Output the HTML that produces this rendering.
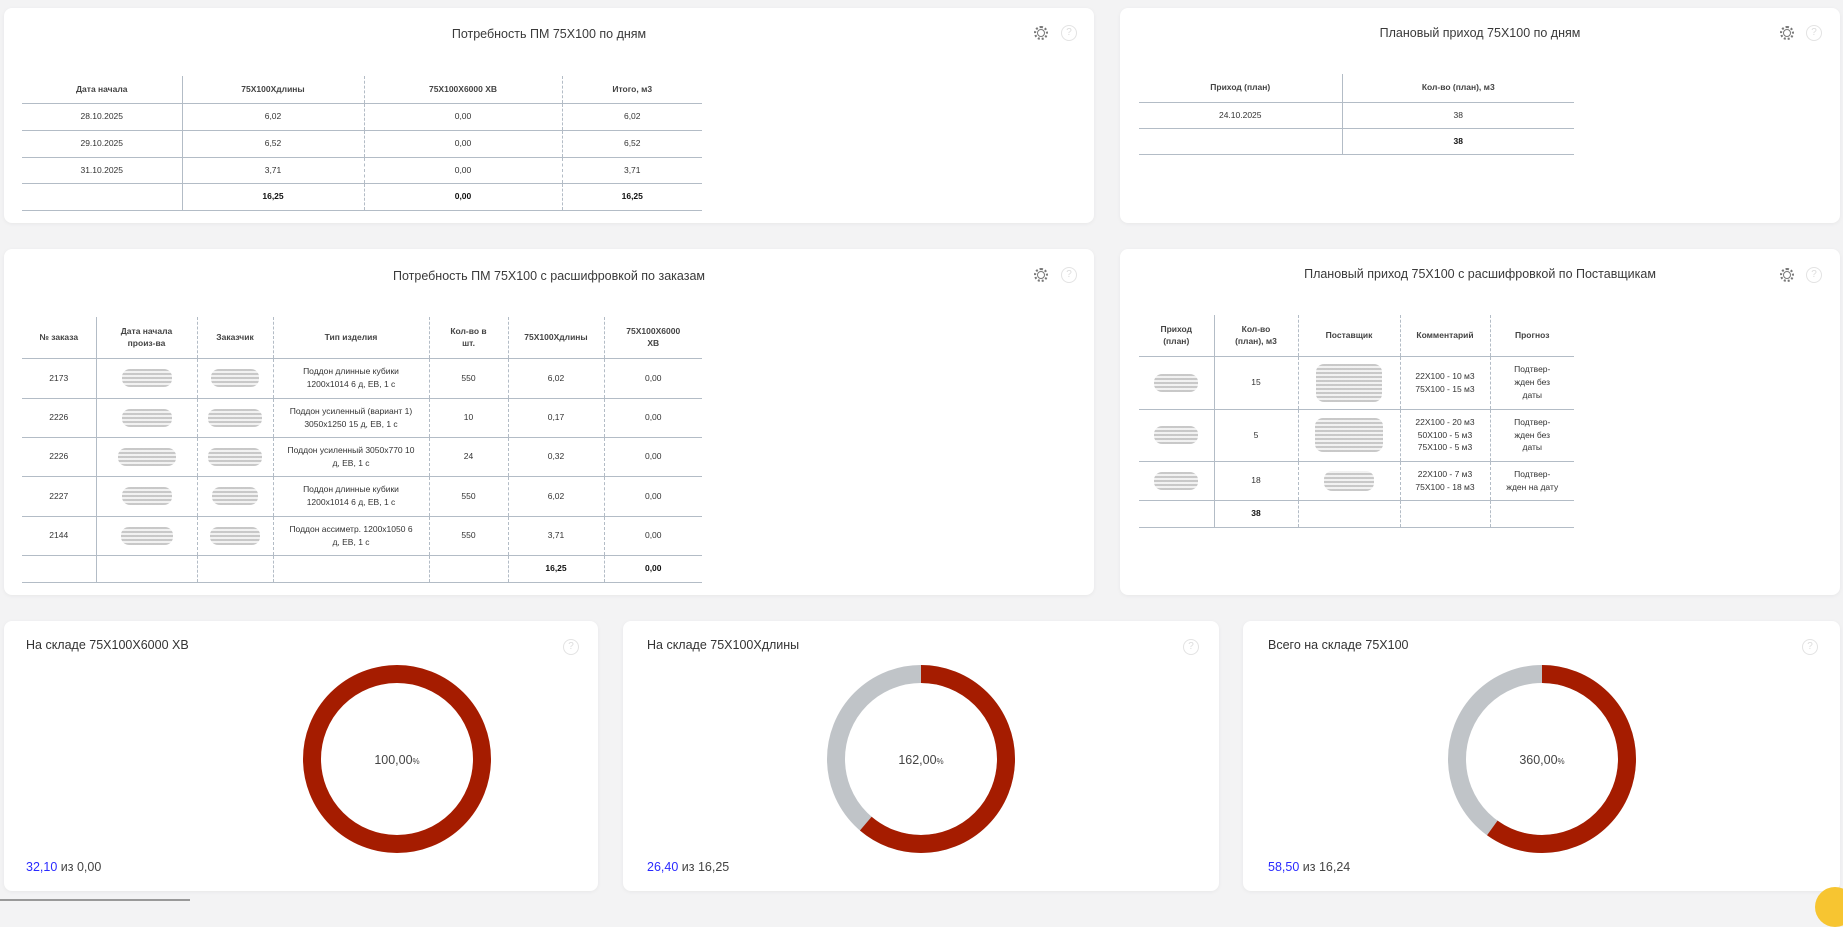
<!DOCTYPE html>
<html><head><meta charset="utf-8"><style>
*{box-sizing:border-box;margin:0;padding:0}
body{width:1843px;height:901px;background:#f3f3f4;font-family:"Liberation Sans",sans-serif;color:#333;position:relative;overflow:hidden}
.card{position:absolute;background:#fff;border-radius:8px;box-shadow:0 1px 4px rgba(0,0,0,.05)}
.title{position:absolute;font-size:12.5px;color:#3a3a3a;white-space:nowrap}
table{position:absolute;border-collapse:collapse;table-layout:fixed;font-size:8.5px;color:#333}
td{text-align:center;vertical-align:middle;border-bottom:1.5px solid #b3bcc6;border-left:1px dashed #b3bcc6;padding:0 8px;line-height:1.5}
td:first-child{border-left:none}
td:nth-child(2){border-left:1px solid #b3bcc6}
tr.h td{font-weight:bold;color:#444;font-size:8.5px}
tr.t td{font-weight:bold;color:#111}
.gear{position:absolute;width:14px;height:14px;border:2px dotted #777;border-radius:50%}
.gear:after{content:"";position:absolute;left:1px;top:1px;width:8px;height:8px;border:1.5px solid #777;border-radius:50%;box-sizing:border-box}
.q{position:absolute;width:16px;height:16px;border:1.2px solid #e3e3e3;border-radius:50%;color:#ddd;font-size:10px;text-align:center;line-height:14px}
.blur{display:inline-block;height:18px;border-radius:8px;background:repeating-linear-gradient(0deg,#bbb 0 2px,#eee 2px 4px);vertical-align:middle;opacity:.8}
.sub{position:absolute;font-size:12.5px;color:#333}
.pct{position:absolute;font-size:12.5px;color:#444;transform:translate(-50%,-50%)}
.foot{position:absolute;font-size:12.5px;color:#444}
.foot b{font-weight:normal;color:#2a2aff}
</style></head><body>

<div class="card" style="left:4px;top:8px;width:1090px;height:215px"></div>
<div class="card" style="left:1120px;top:8px;width:720px;height:215px"></div>
<div class="card" style="left:4px;top:249px;width:1090px;height:346px"></div>
<div class="card" style="left:1120px;top:249px;width:720px;height:346px"></div>
<div class="card" style="left:4px;top:621px;width:594px;height:270px"></div>
<div class="card" style="left:623px;top:621px;width:596px;height:270px"></div>
<div class="card" style="left:1243px;top:621px;width:597px;height:270px"></div>

<div class="title" style="left:549px;top:27px;transform:translateX(-50%)">Потребность ПМ 75X100 по дням</div>
<div class="title" style="left:1480px;top:26px;transform:translateX(-50%)">Плановый приход 75X100 по дням</div>
<div class="title" style="left:549px;top:269px;transform:translateX(-50%)">Потребность ПМ 75X100 с расшифровкой по заказам</div>
<div class="title" style="left:1480px;top:267px;transform:translateX(-50%)">Плановый приход 75X100 с расшифровкой по Поставщикам</div>

<div class="gear" style="left:1034px;top:26px"></div><div class="q" style="left:1061px;top:25px">?</div>
<div class="gear" style="left:1780px;top:26px"></div><div class="q" style="left:1806px;top:25px">?</div>
<div class="gear" style="left:1034px;top:268px"></div><div class="q" style="left:1061px;top:267px">?</div>
<div class="gear" style="left:1780px;top:268px"></div><div class="q" style="left:1806px;top:267px">?</div>
<div class="q" style="left:563px;top:639px">?</div>
<div class="q" style="left:1183px;top:639px">?</div>
<div class="q" style="left:1802px;top:639px">?</div>

<table style="left:22px;top:76px;width:680px">
<colgroup><col style="width:160px"><col style="width:182px"><col style="width:198px"><col style="width:140px"></colgroup>
<tr class="h" style="height:27px"><td>Дата начала</td><td>75X100Xдлины</td><td>75X100X6000 ХВ</td><td>Итого, м3</td></tr>
<tr style="height:27px"><td>28.10.2025</td><td>6,02</td><td>0,00</td><td>6,02</td></tr>
<tr style="height:27px"><td>29.10.2025</td><td>6,52</td><td>0,00</td><td>6,52</td></tr>
<tr style="height:26px"><td>31.10.2025</td><td>3,71</td><td>0,00</td><td>3,71</td></tr>
<tr class="t" style="height:27px"><td></td><td>16,25</td><td>0,00</td><td>16,25</td></tr>
</table>

<table style="left:1139px;top:74px;width:435px">
<colgroup><col style="width:203px"><col style="width:232px"></colgroup>
<tr class="h" style="height:28px"><td>Приход (план)</td><td>Кол-во (план), м3</td></tr>
<tr style="height:26px"><td>24.10.2025</td><td>38</td></tr>
<tr class="t" style="height:26px"><td></td><td>38</td></tr>
</table>

<table style="left:22px;top:317px;width:680px">
<colgroup><col style="width:74px"><col style="width:101px"><col style="width:76px"><col style="width:156px"><col style="width:79px"><col style="width:96px"><col style="width:98px"></colgroup>
<tr class="h" style="height:41px"><td>№ заказа</td><td>Дата начала<br>произ-ва</td><td>Заказчик</td><td>Тип изделия</td><td>Кол-во в<br>шт.</td><td>75X100Xдлины</td><td>75X100X6000<br>ХВ</td></tr>
<tr style="height:40px"><td>2173</td><td><span class="blur" style="width:50px"></span></td><td><span class="blur" style="width:48px"></span></td><td>Поддон длинные кубики<br>1200x1014 6 д, ЕВ, 1 с</td><td>550</td><td>6,02</td><td>0,00</td></tr>
<tr style="height:39px"><td>2226</td><td><span class="blur" style="width:50px"></span></td><td><span class="blur" style="width:54px"></span></td><td>Поддон усиленный (вариант 1)<br>3050x1250 15 д, ЕВ, 1 с</td><td>10</td><td>0,17</td><td>0,00</td></tr>
<tr style="height:39px"><td>2226</td><td><span class="blur" style="width:58px"></span></td><td><span class="blur" style="width:54px"></span></td><td>Поддон усиленный 3050x770 10<br>д, ЕВ, 1 с</td><td>24</td><td>0,32</td><td>0,00</td></tr>
<tr style="height:40px"><td>2227</td><td><span class="blur" style="width:50px"></span></td><td><span class="blur" style="width:46px"></span></td><td>Поддон длинные кубики<br>1200x1014 6 д, ЕВ, 1 с</td><td>550</td><td>6,02</td><td>0,00</td></tr>
<tr style="height:39px"><td>2144</td><td><span class="blur" style="width:52px"></span></td><td><span class="blur" style="width:50px"></span></td><td>Поддон ассиметр. 1200x1050 6<br>д, ЕВ, 1 с</td><td>550</td><td>3,71</td><td>0,00</td></tr>
<tr class="t" style="height:27px"><td></td><td></td><td></td><td></td><td></td><td>16,25</td><td>0,00</td></tr>
</table>

<table style="left:1139px;top:315px;width:435px">
<colgroup><col style="width:75px"><col style="width:84px"><col style="width:102px"><col style="width:90px"><col style="width:84px"></colgroup>
<tr class="h" style="height:41px"><td>Приход<br>(план)</td><td>Кол-во<br>(план), м3</td><td>Поставщик</td><td>Комментарий</td><td>Прогноз</td></tr>
<tr style="height:53px"><td><span class="blur" style="width:44px"></span></td><td>15</td><td><span class="blur" style="width:66px;height:38px"></span></td><td>22X100 - 10 м3<br>75X100 - 15 м3</td><td>Подтвер-<br>жден без<br>даты</td></tr>
<tr style="height:52px"><td><span class="blur" style="width:44px"></span></td><td>5</td><td><span class="blur" style="width:68px;height:34px"></span></td><td>22X100 - 20 м3<br>50X100 - 5 м3<br>75X100 - 5 м3</td><td>Подтвер-<br>жден без<br>даты</td></tr>
<tr style="height:39px"><td><span class="blur" style="width:44px"></span></td><td>18</td><td><span class="blur" style="width:50px;height:20px"></span></td><td>22X100 - 7 м3<br>75X100 - 18 м3</td><td>Подтвер-<br>жден на дату</td></tr>
<tr class="t" style="height:27px"><td></td><td>38</td><td></td><td></td><td></td></tr>
</table>

<div class="sub" style="left:26px;top:638px">На складе 75X100X6000 ХВ</div>
<div class="sub" style="left:647px;top:638px">На складе 75X100Xдлины</div>
<div class="sub" style="left:1268px;top:638px">Всего на складе 75X100</div>

<svg style="position:absolute;left:0;top:0" width="1843" height="901">
<circle cx="397" cy="759" r="85" fill="none" stroke="#a51c00" stroke-width="18"/>
<circle cx="921" cy="759" r="85" fill="none" stroke="#c0c4c8" stroke-width="18"/>
<circle cx="921" cy="759" r="85" fill="none" stroke="#a51c00" stroke-width="18" stroke-dasharray="327 600" transform="rotate(-90 921 759)"/>
<circle cx="1542" cy="759" r="85" fill="none" stroke="#c0c4c8" stroke-width="18"/>
<circle cx="1542" cy="759" r="85" fill="none" stroke="#a51c00" stroke-width="18" stroke-dasharray="320 600" transform="rotate(-90 1542 759)"/>
</svg>
<div class="pct" style="left:397px;top:760px">100,00<small style="font-size:8px">%</small></div>
<div class="pct" style="left:921px;top:760px">162,00<small style="font-size:8px">%</small></div>
<div class="pct" style="left:1542px;top:760px">360,00<small style="font-size:8px">%</small></div>

<div class="foot" style="left:26px;top:860px"><b>32,10</b> из 0,00</div>
<div class="foot" style="left:647px;top:860px"><b>26,40</b> из 16,25</div>
<div class="foot" style="left:1268px;top:860px"><b>58,50</b> из 16,24</div>

<div style="position:absolute;left:1815px;top:887px;width:40px;height:40px;border-radius:50%;background:#f7c531"></div>
<div style="position:absolute;left:0;top:899px;width:190px;height:2px;background:#999"></div>
</body></html>
